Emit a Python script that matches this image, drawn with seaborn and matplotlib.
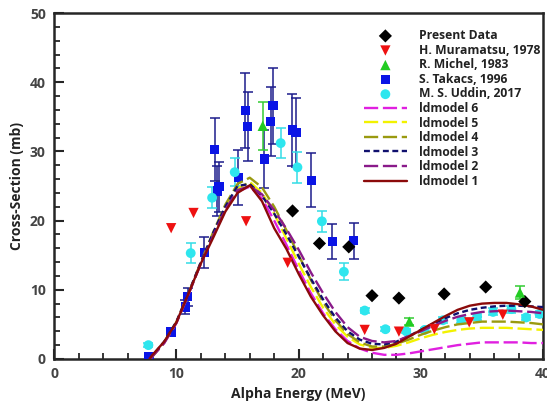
import numpy as np
import pandas as pd
import matplotlib
matplotlib.use("Agg")
import matplotlib.pyplot as plt
import seaborn as sns
from matplotlib.ticker import MultipleLocator

present_e = [19.5, 21.7, 24.1, 26.0, 28.2, 31.9, 35.3, 38.5]
present_y = [21.4, 16.7, 16.2, 9.15, 8.8, 9.4, 10.4, 8.3]

muramatsu_e = [9.57, 11.4, 15.7, 19.1, 25.4, 28.2, 31.1, 33.95, 36.7]
muramatsu_y = [18.9, 21.1, 19.9, 13.9, 4.2, 3.95, 4.3, 5.3, 6.4]

michel_e = [17.06, 29.05, 38.1]
michel_y = [33.7, 5.4, 9.6]
michel_err = [3.5, 0.5, 0.9]

takacs_e = [7.77, 9.57, 10.74, 10.93, 12.27, 13.14, 13.36, 13.49, 15.07, 15.64,
            15.84, 17.2, 17.72, 17.9, 19.49, 19.79, 21.04, 22.76, 24.5]
takacs_y = [0.3, 3.9, 7.5, 9.0, 15.4, 30.3, 24.3, 24.9, 26.2, 35.9,
            33.6, 28.9, 34.3, 36.6, 33.1, 32.7, 25.8, 16.95, 17.1]
takacs_err = [0.0, 0.5, 1.0, 1.3, 2.3, 4.6, 3.6, 3.6, 4.0, 5.4,
              5.0, 4.2, 5.0, 5.5, 5.2, 5.0, 3.9, 2.5, 2.6]

uddin_e = [7.71, 11.17, 12.92, 14.77, 18.53, 19.9, 21.9, 23.7, 25.4, 27.1,
           28.8, 30.3, 31.8, 33.3, 34.6, 35.9, 37.4, 38.6, 39.7]
uddin_y = [2.0, 15.3, 23.3, 27.0, 31.2, 27.7, 19.9, 12.6, 7.0, 4.3,
           4.0, 4.2, 5.6, 5.6, 6.1, 6.8, 7.2, 6.0, 6.5]
uddin_err = [0.3, 1.5, 1.5, 2.0, 2.2, 2.2, 1.5, 1.2, 0.4, 0.3,
             0.3, 0.3, 0.4, 0.4, 0.4, 0.5, 0.5, 0.4, 0.4]

# Model curves (TALYS level density models)
model_e = [7.8, 8, 9, 10, 11, 12, 13, 14, 15, 16, 17, 18, 19, 20, 21, 22, 23, 24,
           25, 26, 27, 28, 29, 30, 31, 32, 33, 34, 35, 36, 37, 38, 39, 40]
ld1 = [0.0, 0.5, 2.5, 5.3, 9.5, 13.8, 17.5, 21.3, 24.0, 25.1, 22.8, 18.9, 15.9, 12.3,
       9.0, 6.3, 4.0, 2.3, 1.5, 1.3, 1.6, 2.2, 3.2, 4.2, 5.2, 6.2, 7.1, 7.7, 8.0, 8.1,
       8.1, 7.9, 7.6, 7.1]
ld2 = [0.0, 0.3, 2.3, 5.2, 9.4, 13.8, 17.8, 21.6, 24.4, 25.0, 23.8, 21.5, 18.8, 15.8,
       12.5, 9.5, 6.8, 4.6, 3.2, 2.6, 2.4, 2.6, 3.3, 4.0, 4.8, 5.5, 6.1, 6.5, 6.8, 6.9,
       7.0, 6.9, 6.8, 6.6]
ld3 = [0.0, 0.4, 2.5, 5.4, 9.6, 14.0, 18.2, 22.0, 25.0, 25.3, 23.6, 21.0, 18.0, 14.8,
       11.6, 8.6, 6.0, 4.0, 2.8, 2.2, 2.1, 2.5, 3.3, 4.2, 5.1, 5.9, 6.6, 7.1, 7.4, 7.6,
       7.7, 7.7, 7.6, 7.5]
ld4 = [0.0, 0.3, 2.4, 5.3, 9.5, 14.0, 18.3, 22.3, 25.3, 26.2, 24.8, 22.0, 18.6, 15.0,
       11.4, 8.2, 5.6, 3.6, 2.4, 1.8, 1.8, 2.2, 2.8, 3.5, 4.1, 4.6, 5.0, 5.2, 5.4, 5.4,
       5.4, 5.3, 5.2, 5.0]
ld5 = [0.0, 0.3, 2.4, 5.3, 9.5, 13.9, 18.0, 21.8, 24.6, 25.6, 24.0, 21.0, 17.4, 13.8,
       10.4, 7.4, 5.0, 3.2, 2.1, 1.6, 1.6, 1.9, 2.4, 3.0, 3.5, 3.9, 4.2, 4.4, 4.5, 4.5,
       4.5, 4.4, 4.3, 4.2]
ld6 = [0.0, 0.3, 2.3, 5.2, 9.4, 13.8, 17.8, 21.5, 24.2, 24.9, 23.2, 20.0, 16.5, 12.9,
       9.5, 6.6, 4.3, 2.6, 1.5, 0.9, 0.6, 0.6, 0.8, 1.1, 1.4, 1.7, 2.0, 2.2, 2.4, 2.4,
       2.4, 2.4, 2.3, 2.3]

sns.set_style("ticks")
plt.rcParams['font.family'] = ['Open Sans', 'DejaVu Sans']
plt.rcParams['font.weight'] = 'bold'

fig = plt.figure(figsize=(5.47, 4.07), dpi=100)
ax = fig.add_axes([0.099, 0.118, 0.894, 0.850])

# error bars first
ax.errorbar(takacs_e, takacs_y, yerr=takacs_err, fmt='none', ecolor='#1c1c8c',
            elinewidth=1.1, capsize=3.5, capthick=1.1, zorder=2)
ax.errorbar(uddin_e, uddin_y, yerr=uddin_err, fmt='none', ecolor='#33dde6',
            elinewidth=1.1, capsize=3.5, capthick=1.1, zorder=2)
ax.errorbar(michel_e, michel_y, yerr=michel_err, fmt='none', ecolor='#33cc33',
            elinewidth=1.1, capsize=3.5, capthick=1.1, zorder=2)

sns.scatterplot(x=present_e, y=present_y, marker='D', s=45, color='black',
                edgecolor='none', label='Present Data', ax=ax, zorder=5)
sns.scatterplot(x=muramatsu_e, y=muramatsu_y, marker='v', s=55, color='#ee1111',
                edgecolor='none', label='H. Muramatsu, 1978', ax=ax, zorder=5)
sns.scatterplot(x=michel_e, y=michel_y, marker='^', s=55, color='#22cc22',
                edgecolor='none', label='R. Michel, 1983', ax=ax, zorder=5)
sns.scatterplot(x=takacs_e, y=takacs_y, marker='s', s=45, color='#0a14e6',
                edgecolor='none', label='S. Takacs, 1996', ax=ax, zorder=3)
sns.scatterplot(x=uddin_e, y=uddin_y, marker='o', s=50, color='#2ee6ee',
                edgecolor='none', label='M. S. Uddin, 2017', ax=ax, zorder=3)

models = [
    (ld6, 'ldmodel 6', '#e020e0', (0, (6, 2))),
    (ld5, 'ldmodel 5', '#f2f200', (0, (6, 2))),
    (ld4, 'ldmodel 4', '#9a9a10', (0, (6, 2))),
    (ld3, 'ldmodel 3', '#10106e', (0, (2.5, 1.5))),
    (ld2, 'ldmodel 2', '#8a1a8a', (0, (6, 2))),
    (ld1, 'ldmodel 1', '#8b0a0a', '-'),
]
for vals, name, col, ls in models:
    sns.lineplot(x=model_e, y=vals, color=col, linestyle=ls, linewidth=1.7,
                 label=name, ax=ax, zorder=4)

ax.set_xlim(0, 40)
ax.set_ylim(0, 50)
ax.xaxis.set_major_locator(MultipleLocator(10))
ax.xaxis.set_minor_locator(MultipleLocator(2))
ax.yaxis.set_major_locator(MultipleLocator(10))
ax.yaxis.set_minor_locator(MultipleLocator(2))
ax.tick_params(which='major', direction='in', length=7, width=1.5,
               labelsize=10, labelcolor='#444444', pad=6)
ax.tick_params(which='minor', direction='in', length=4, width=1.3)
for lab in ax.get_xticklabels() + ax.get_yticklabels():
    lab.set_fontweight('bold')
for sp in ax.spines.values():
    sp.set_linewidth(1.8)

ax.set_xlabel('Alpha Energy (MeV)', fontsize=10, fontweight='bold', color='#222222')
ax.set_ylabel('Cross-Section (mb)', fontsize=10, fontweight='bold', color='#222222')

leg = ax.legend(loc='upper right', bbox_to_anchor=(1.012, 0.978), frameon=False,
                fontsize=8.7, handlelength=3.6, labelspacing=0.13,
                borderaxespad=0.3, handletextpad=1.0)
for t in leg.get_texts():
    t.set_fontweight('bold')
    t.set_color('#222222')

fig.savefig('out.png', dpi=100)
